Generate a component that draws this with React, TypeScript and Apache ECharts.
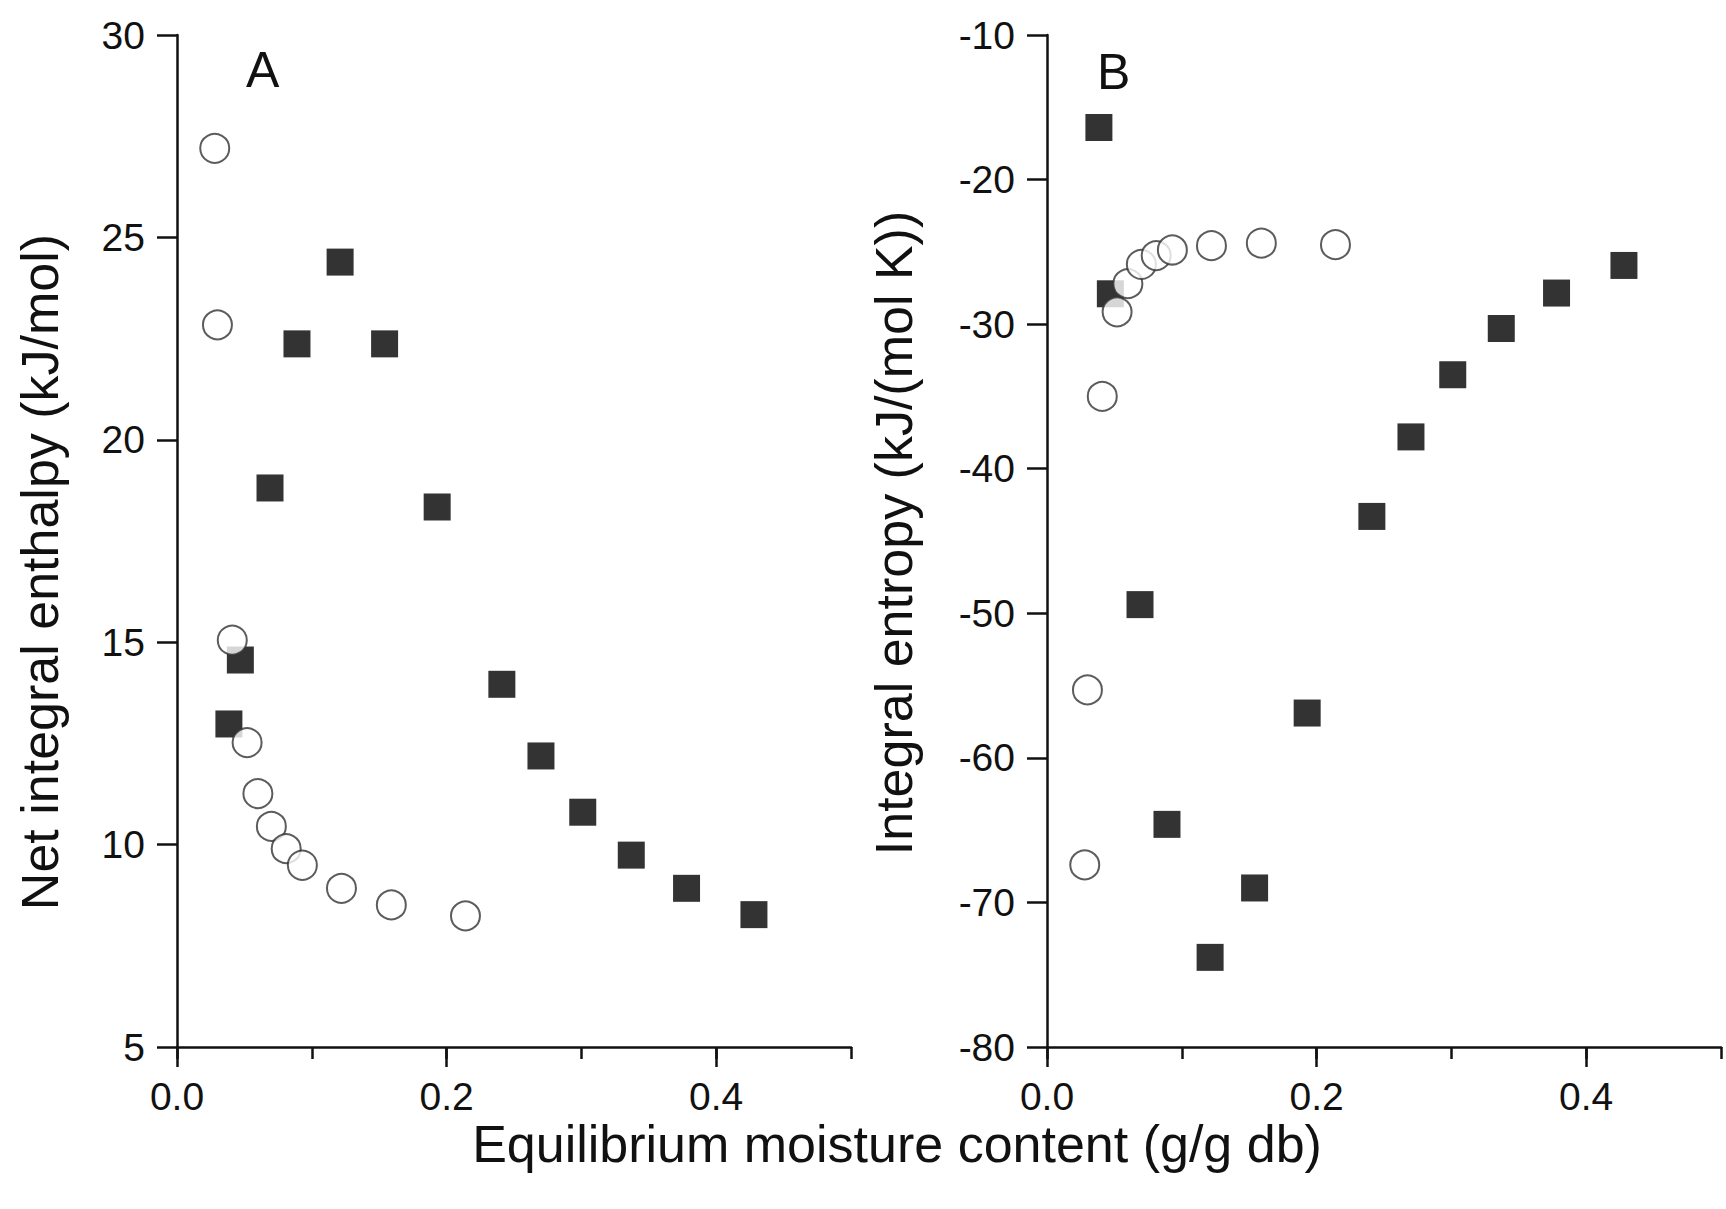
import React, { useEffect, useRef } from "react";
import * as echarts from "echarts";

// Moisture content (g/g db) of the two series
const moistureSquares = [0.0385, 0.047, 0.069, 0.089, 0.121, 0.154, 0.193, 0.241, 0.270, 0.301, 0.337, 0.378, 0.428];
const moistureCircles = [0.028, 0.030, 0.041, 0.052, 0.060, 0.070, 0.081, 0.093, 0.122, 0.159, 0.214];

// Panel A: net integral enthalpy (kJ/mol)
const enthalpySquares = [12.98, 14.56, 18.81, 22.37, 24.39, 22.37, 18.34, 13.96, 12.19, 10.8, 9.74, 8.92, 8.27];
const enthalpyCircles = [27.2, 22.84, 15.05, 12.52, 11.26, 10.45, 9.9, 9.49, 8.92, 8.51, 8.24];

// Panel B: integral entropy (kJ/(mol K))
const entropySquares = [-16.4, -27.9, -49.4, -64.6, -73.8, -69.0, -56.9, -43.3, -37.8, -33.5, -30.3, -27.85, -25.94];
const entropyCircles = [-67.4, -55.3, -35.0, -29.15, -27.2, -25.87, -25.26, -24.87, -24.57, -24.4, -24.5];

// Tick labels
const xLabelTicks = [0, 0.2, 0.4];
const yTicksA = [5, 10, 15, 20, 25, 30];
const yTicksB = [-80, -70, -60, -50, -40, -30, -20, -10];

const FONT = '"Liberation Sans", Arial, Helvetica, sans-serif';
const TICK_FS = 39;
const TITLE_FS = 52;

function zip(xs: number[], ys: number[]) {
  return xs.map((x, i) => [x, ys[i]]);
}

export default function App() {
  const ref = useRef<HTMLDivElement>(null);

  useEffect(() => {
    document.body.style.margin = "0";
    if (!ref.current) return;
    const chart = echarts.init(ref.current, undefined, { renderer: "svg" });

    const lineStyle = { color: "#111", width: 2.5 };

    const xBase = (gridIndex: number) => ({
      type: "value",
      gridIndex,
      min: 0,
      max: 0.5,
      interval: 0.1,
      axisLine: { show: true, onZero: false, lineStyle },
      axisTick: { show: true, length: 12, lineStyle },
      axisLabel: { show: false },
      splitLine: { show: false },
    });
    const xOverlay = (gridIndex: number) => ({
      type: "value",
      gridIndex,
      position: "bottom",
      min: 0,
      max: 0.5,
      interval: 0.1,
      axisLine: { show: false, onZero: false },
      axisTick: { show: true, length: 20, lineStyle, customValues: xLabelTicks },
      axisLabel: {
        show: true,
        customValues: xLabelTicks,
        margin: 30,
        fontSize: TICK_FS,
        fontFamily: FONT,
        color: "#111",
        formatter: (v: number) => v.toFixed(1),
      },
      splitLine: { show: false },
    });
    const yAxis = (gridIndex: number, ticks: number[]) => ({
      type: "value",
      gridIndex,
      min: ticks[0],
      max: ticks[ticks.length - 1],
      interval: ticks[1] - ticks[0],
      axisLine: { show: true, onZero: false, lineStyle },
      axisTick: { show: true, length: 20, lineStyle },
      axisLabel: {
        show: true,
        margin: 32,
        fontSize: TICK_FS,
        fontFamily: FONT,
        color: "#111",
      },
      splitLine: { show: false },
    });

    const squareSeries = (xi: number, yi: number, data: number[][]) => ({
      type: "scatter",
      xAxisIndex: xi,
      yAxisIndex: yi,
      symbol: "rect",
      symbolSize: 27,
      itemStyle: { color: "#000" },
      data,
      z: 2,
    });
    const circleSeries = (xi: number, yi: number, data: number[][]) => ({
      type: "scatter",
      xAxisIndex: xi,
      yAxisIndex: yi,
      symbol: "circle",
      symbolSize: 29,
      itemStyle: { color: "#fff", borderColor: "#333", borderWidth: 2 },
      data,
      z: 3,
    });

    chart.setOption({
      animation: false,
      backgroundColor: "#fff",
      grid: [
        { left: 177, top: 35, width: 674, height: 1012 },
        { left: 1047, top: 35, width: 674, height: 1012 },
      ],
      xAxis: [xBase(0), xOverlay(0), xBase(1), xOverlay(1)],
      yAxis: [yAxis(0, yTicksA), yAxis(1, yTicksB)],
      series: [
        squareSeries(0, 0, zip(moistureSquares, enthalpySquares)),
        circleSeries(0, 0, zip(moistureCircles, enthalpyCircles)),
        squareSeries(2, 1, zip(moistureSquares, entropySquares)),
        circleSeries(2, 1, zip(moistureCircles, entropyCircles)),
      ],
      graphic: [
        {
          type: "text",
          x: 40,
          y: 572,
          rotation: Math.PI / 2,
          style: {
            text: "Net integral enthalpy (kJ/mol)",
            fontSize: TITLE_FS,
            fontFamily: FONT,
            fill: "#111",
            align: "center",
            verticalAlign: "middle",
          },
        },
        {
          type: "text",
          x: 894,
          y: 533,
          rotation: Math.PI / 2,
          style: {
            text: "Integral entropy (kJ/(mol K))",
            fontSize: TITLE_FS,
            fontFamily: FONT,
            fill: "#111",
            align: "center",
            verticalAlign: "middle",
          },
        },
        {
          type: "text",
          x: 897,
          y: 1144,
          style: {
            text: "Equilibrium moisture content (g/g db)",
            fontSize: TITLE_FS,
            fontFamily: FONT,
            fill: "#111",
            align: "center",
            verticalAlign: "middle",
          },
        },
        {
          type: "text",
          x: 246,
          y: 70,
          style: {
            text: "A",
            fontSize: 50,
            fontFamily: FONT,
            fill: "#111",
            align: "left",
            verticalAlign: "middle",
          },
        },
        {
          type: "text",
          x: 1097,
          y: 72,
          style: {
            text: "B",
            fontSize: 50,
            fontFamily: FONT,
            fill: "#111",
            align: "left",
            verticalAlign: "middle",
          },
        },
      ],
    });

    return () => chart.dispose();
  }, []);

  return <div ref={ref} style={{ width: 1726, height: 1209 }} />;
}
